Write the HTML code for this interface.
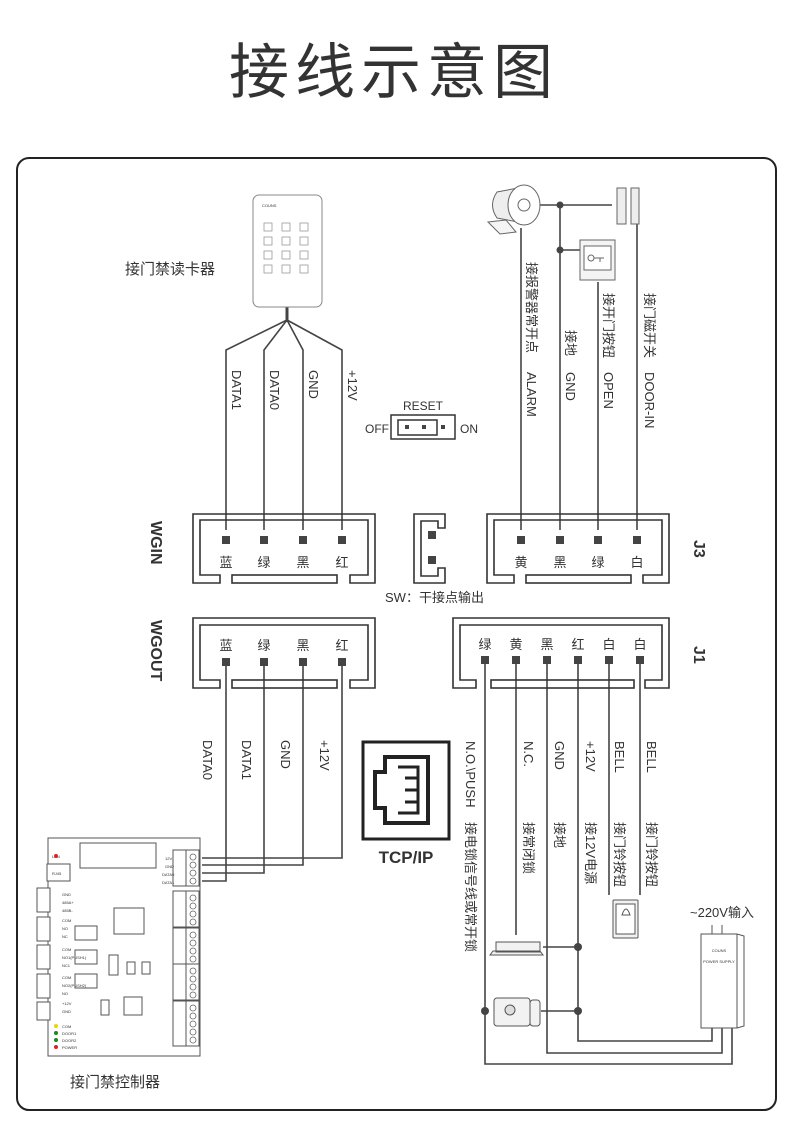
<!DOCTYPE html>
<html><head><meta charset="utf-8"><style>
html,body{margin:0;padding:0;background:#fff;}
svg{display:block;}
text{font-family:"Liberation Sans","Noto Sans CJK SC",sans-serif;fill:#333;}
</style></head><body>
<svg width="790" height="1128" viewBox="0 0 790 1128" xmlns="http://www.w3.org/2000/svg">
<text x="394" y="93" font-size="60" text-anchor="middle" fill="#222" style="letter-spacing:6px">接线示意图</text>
<rect x="17" y="158" width="759" height="952" rx="12" fill="none" stroke="#222" stroke-width="2"/>

<g stroke="#444" fill="none" stroke-width="1.6">
<path d="M287,320 L226,350 V530"/><path d="M287,320 L264,350 V530"/><path d="M287,320 L303,350 V530"/><path d="M287,320 L342,350 V530"/>
<line x1="287" y1="306" x2="287" y2="322" stroke-width="3"/>
<path d="M521,228 V530"/><path d="M560,205 V530"/><path d="M598,282 V530"/><path d="M637,224 V530"/>
<path d="M540,205 H612"/><path d="M560,250 H580"/>
<path d="M226,662 V881 H202"/><path d="M264,662 V873 H202"/><path d="M303,662 V865 H202"/><path d="M342,662 V858 H202"/>
<path d="M485,660 V1064 H732 V1026"/><path d="M516,660 V935"/><path d="M547,660 V1053 H722 V1026"/><path d="M578,660 V1041 H712 V1026"/>
<path d="M609,660 V895"/><path d="M640,660 V895"/>
<path d="M543,947 H578"/><path d="M541,1011 H578"/>
</g>
<g fill="#444"><circle cx="560" cy="205" r="3.5"/><circle cx="560" cy="250" r="3.5"/><circle cx="578" cy="947" r="4"/><circle cx="578" cy="1011" r="4"/><circle cx="485" cy="1011" r="4"/></g>

<rect x="253" y="195" width="69" height="112" rx="6" fill="#fff" stroke="#888" stroke-width="1"/>
<text x="262" y="207" font-size="4" fill="#555">COUNS</text>
<g fill="none" stroke="#999" stroke-width="0.8">
<rect x="264" y="223" width="8" height="8"/><rect x="282" y="223" width="8" height="8"/><rect x="300" y="223" width="8" height="8"/>
<rect x="264" y="237" width="8" height="8"/><rect x="282" y="237" width="8" height="8"/><rect x="300" y="237" width="8" height="8"/>
<rect x="264" y="251" width="8" height="8"/><rect x="282" y="251" width="8" height="8"/><rect x="300" y="251" width="8" height="8"/>
<rect x="264" y="265" width="8" height="8"/><rect x="282" y="265" width="8" height="8"/><rect x="300" y="265" width="8" height="8"/>
</g>
<text x="125" y="274" font-size="15" fill="#333">接门禁读卡器</text>

<g font-size="13">
<text transform="translate(232,370) rotate(90)">DATA1</text>
<text transform="translate(270,370) rotate(90)">DATA0</text>
<text transform="translate(309,370) rotate(90)">GND</text>
<text transform="translate(348,370) rotate(90)">+12V</text>
<text transform="translate(527,262) rotate(90)">接报警器常开点</text>
<text transform="translate(527,372) rotate(90)">ALARM</text>
<text transform="translate(566,330) rotate(90)">接地</text>
<text transform="translate(566,372) rotate(90)">GND</text>
<text transform="translate(604,293) rotate(90)">接开门按钮</text>
<text transform="translate(604,372) rotate(90)">OPEN</text>
<text transform="translate(645,293) rotate(90)">接门磁开关</text>
<text transform="translate(645,372) rotate(90)">DOOR-IN</text>
<text transform="translate(203,740) rotate(90)">DATA0</text>
<text transform="translate(242,740) rotate(90)">DATA1</text>
<text transform="translate(281,740) rotate(90)">GND</text>
<text transform="translate(320,740) rotate(90)">+12V</text>
<text transform="translate(466,741) rotate(90)">N.O.\PUSH</text>
<text transform="translate(466,822) rotate(90)">接电锁信号线或常开锁</text>
<text transform="translate(524,741) rotate(90)">N.C.</text>
<text transform="translate(524,822) rotate(90)">接常闭锁</text>
<text transform="translate(555,741) rotate(90)">GND</text>
<text transform="translate(555,822) rotate(90)">接地</text>
<text transform="translate(586,741) rotate(90)">+12V</text>
<text transform="translate(586,822) rotate(90)">接12V电源</text>
<text transform="translate(615,741) rotate(90)">BELL</text>
<text transform="translate(615,822) rotate(90)">接门铃按钮</text>
<text transform="translate(647,741) rotate(90)">BELL</text>
<text transform="translate(647,822) rotate(90)">接门铃按钮</text>
</g>
<g font-size="16" font-weight="bold" fill="#222">
<text transform="translate(151,521) rotate(90)">WGIN</text>
<text transform="translate(151,620) rotate(90)">WGOUT</text>
<text transform="translate(694,540) rotate(90)">J3</text>
<text transform="translate(694,646) rotate(90)">J1</text>
</g>

<text x="423" y="410" font-size="12" text-anchor="middle">RESET</text>
<text x="365" y="433" font-size="12">OFF</text><text x="460" y="433" font-size="12">ON</text>
<rect x="391" y="415" width="64" height="24" fill="none" stroke="#333" stroke-width="1.5"/>
<rect x="398" y="420" width="39" height="15" fill="none" stroke="#333" stroke-width="1.5"/>
<g fill="#444"><rect x="405" y="425" width="4" height="4"/><rect x="422" y="425" width="4" height="4"/><rect x="441" y="425" width="4" height="4"/></g>

<g fill="none" stroke="#333" stroke-width="1.6">
<path d="M220,583 H193 V514 H375 V583 H350 V575 H368 V520 H200 V575 H220 Z"/><rect x="232" y="575" width="105" height="8"/>
<path d="M514,583 H487 V514 H669 V583 H643 V575 H662 V520 H494 V575 H514 Z"/><rect x="526" y="575" width="105" height="8"/>
<path d="M445,514 H414 V583 H445 V568 H438 V576 H421 V521 H438 V528 H445 Z"/>
<path d="M220,688 H193 V618 H375 V688 H350 V680 H368 V625 H200 V680 H220 Z"/><rect x="232" y="680" width="105" height="8"/>
<path d="M476,688 H453 V618 H669 V688 H645 V680 H662 V625 H460 V680 H476 Z"/><rect x="491" y="680" width="143" height="8"/>
</g>
<g fill="#444">
<rect x="222" y="536" width="8" height="8"/><rect x="260" y="536" width="8" height="8"/><rect x="299" y="536" width="8" height="8"/><rect x="338" y="536" width="8" height="8"/>
<rect x="517" y="536" width="8" height="8"/><rect x="556" y="536" width="8" height="8"/><rect x="594" y="536" width="8" height="8"/><rect x="633" y="536" width="8" height="8"/>
<rect x="428" y="531" width="8" height="8"/><rect x="428" y="556" width="8" height="8"/>
<rect x="222" y="658" width="8" height="8"/><rect x="260" y="658" width="8" height="8"/><rect x="299" y="658" width="8" height="8"/><rect x="338" y="658" width="8" height="8"/>
<rect x="481" y="656" width="8" height="8"/><rect x="512" y="656" width="8" height="8"/><rect x="543" y="656" width="8" height="8"/><rect x="574" y="656" width="8" height="8"/><rect x="605" y="656" width="8" height="8"/><rect x="636" y="656" width="8" height="8"/>
</g>
<g font-size="13" text-anchor="middle">
<text x="226" y="567">蓝</text><text x="264" y="567">绿</text><text x="303" y="567">黑</text><text x="342" y="567">红</text>
<text x="521" y="567">黄</text><text x="560" y="567">黑</text><text x="598" y="567">绿</text><text x="637" y="567">白</text>
<text x="226" y="650">蓝</text><text x="264" y="650">绿</text><text x="303" y="650">黑</text><text x="342" y="650">红</text>
<text x="485" y="649">绿</text><text x="516" y="649">黄</text><text x="547" y="649">黑</text><text x="578" y="649">红</text><text x="609" y="649">白</text><text x="640" y="649">白</text>
</g>
<text x="385" y="602" font-size="13">SW：干接点输出</text>

<rect x="363" y="742" width="86" height="97" fill="none" stroke="#222" stroke-width="3"/>
<path d="M385,757 H428 V823 H385 V808 H375 V772 H385 Z" fill="none" stroke="#222" stroke-width="4"/>
<path d="M398,767 H418 V813 H398 M405,778 H418 M405,790 H418 M405,802 H418" fill="none" stroke="#222" stroke-width="3"/>
<text x="406" y="863" font-size="17" font-weight="bold" text-anchor="middle" fill="#222">TCP/IP</text>

<g stroke="#666" fill="#eee" stroke-width="1">
<path d="M497,192 Q488,205 497,218 L518,222 L518,188 Z"/>
<path d="M488,222 L500,234 L516,232 L506,220 Z" fill="#f4f4f4"/>
<ellipse cx="524" cy="205" rx="16" ry="20" fill="#fff"/>
<circle cx="524" cy="205" r="6" fill="#fff"/>
<rect x="617" y="188" width="9" height="36" fill="#eee"/><rect x="631" y="188" width="8" height="36" fill="#eee"/>
<rect x="580" y="240" width="35" height="40" fill="#f4f4f4"/><rect x="584" y="246" width="27" height="24" fill="#fff"/>
<circle cx="591" cy="258" r="3" fill="#fff"/><path d="M594,258 H604 M600,258 V262" fill="none"/>
</g>

<g stroke="#555" fill="#f2f2f2" stroke-width="1">
<rect x="613" y="900" width="25" height="38" rx="1"/>
<rect x="616" y="904" width="19" height="30" fill="#fff"/>
<path d="M622,915 Q626,903 630,915 Z" fill="#fff"/>
<path d="M496,942 H540 V952 H496 Z M490,955 H543 L540,951 H493 Z"/>
<rect x="494" y="998" width="36" height="28" rx="3"/>
<circle cx="510" cy="1010" r="5" fill="#ddd"/>
<rect x="530" y="1000" width="10" height="26" rx="3"/>
<path d="M701,934 H737 L744,936 V1026 L737,1028 H701 Z" fill="#fff"/>
<path d="M737,934 V1028" fill="none"/>
<path d="M712,925 V934 M722,925 V934" fill="none"/>
</g>
<text x="719" y="952" font-size="4" text-anchor="middle">COUNS</text>
<text x="719" y="963" font-size="4" text-anchor="middle">POWER SUPPLY</text>
<text x="690" y="917" font-size="13">~220V输入</text>

<g stroke="#555" fill="#fff" stroke-width="1">
<rect x="48" y="838" width="152" height="218"/>
<rect x="80" y="843" width="76" height="25"/>
<rect x="47" y="864" width="23" height="17"/>
<rect x="114" y="908" width="30" height="26"/>
<rect x="75" y="926" width="22" height="14"/>
<rect x="75" y="950" width="22" height="14"/>
<rect x="75" y="974" width="22" height="14"/>
<rect x="109" y="955" width="9" height="20"/><rect x="127" y="962" width="8" height="12"/><rect x="142" y="962" width="8" height="12"/>
<rect x="124" y="997" width="18" height="18"/>
<rect x="101" y="1000" width="8" height="15"/>
<rect x="173" y="850" width="13" height="36"/><rect x="173" y="891" width="13" height="36"/><rect x="173" y="928" width="13" height="36"/><rect x="173" y="964" width="13" height="36"/><rect x="173" y="1001" width="13" height="45"/>
<rect x="186" y="850" width="13" height="36"/><rect x="186" y="891" width="13" height="36"/><rect x="186" y="928" width="13" height="36"/><rect x="186" y="964" width="13" height="36"/><rect x="186" y="1001" width="13" height="45"/>
<rect x="37" y="888" width="13" height="24"/><rect x="37" y="917" width="13" height="24"/><rect x="37" y="945" width="13" height="24"/><rect x="37" y="974" width="13" height="24"/><rect x="37" y="1002" width="13" height="18"/>
</g>
<g stroke="#666" fill="none" stroke-width="0.8">
<circle cx="193" cy="857" r="3"/><circle cx="193" cy="865" r="3"/><circle cx="193" cy="873" r="3"/><circle cx="193" cy="881" r="3"/>
<circle cx="193" cy="898" r="3"/><circle cx="193" cy="906" r="3"/><circle cx="193" cy="914" r="3"/><circle cx="193" cy="922" r="3"/>
<circle cx="193" cy="935" r="3"/><circle cx="193" cy="943" r="3"/><circle cx="193" cy="951" r="3"/><circle cx="193" cy="959" r="3"/>
<circle cx="193" cy="971" r="3"/><circle cx="193" cy="979" r="3"/><circle cx="193" cy="987" r="3"/><circle cx="193" cy="995" r="3"/>
<circle cx="193" cy="1008" r="3"/><circle cx="193" cy="1016" r="3"/><circle cx="193" cy="1024" r="3"/><circle cx="193" cy="1032" r="3"/><circle cx="193" cy="1040" r="3"/>
</g>
<g font-size="4" fill="#444">
<text x="165" y="860">12V</text><text x="165" y="868">GND</text><text x="162" y="876">DATA0</text><text x="162" y="884">DATA1</text>
<text x="62" y="896">GND</text><text x="62" y="904">485A+</text><text x="62" y="912">485B-</text>
<text x="62" y="922">COM</text><text x="62" y="930">NO</text><text x="62" y="938">NC</text>
<text x="62" y="951">COM</text><text x="62" y="959">NO1(PUSH1)</text><text x="62" y="967">NC1</text>
<text x="62" y="979">COM</text><text x="62" y="987">NO2(PUSH2)</text><text x="62" y="995">NO</text>
<text x="62" y="1005">+12V</text><text x="62" y="1013">GND</text>
<text x="62" y="1028">COM</text><text x="62" y="1035">DOOR1</text><text x="62" y="1042">DOOR2</text><text x="62" y="1049">POWER</text>
<text x="52" y="858">LAN</text><text x="52" y="875">RJ45</text>
</g>
<g><circle cx="56" cy="1026" r="2" fill="#e8d800"/><circle cx="56" cy="1033" r="2" fill="#1a8a1a"/><circle cx="56" cy="1040" r="2" fill="#1a8a1a"/><circle cx="56" cy="1047" r="2" fill="#e02020"/><circle cx="56" cy="856" r="2" fill="#e02020"/></g>
<text x="70" y="1087" font-size="15" fill="#333">接门禁控制器</text>
</svg>
</body></html>
